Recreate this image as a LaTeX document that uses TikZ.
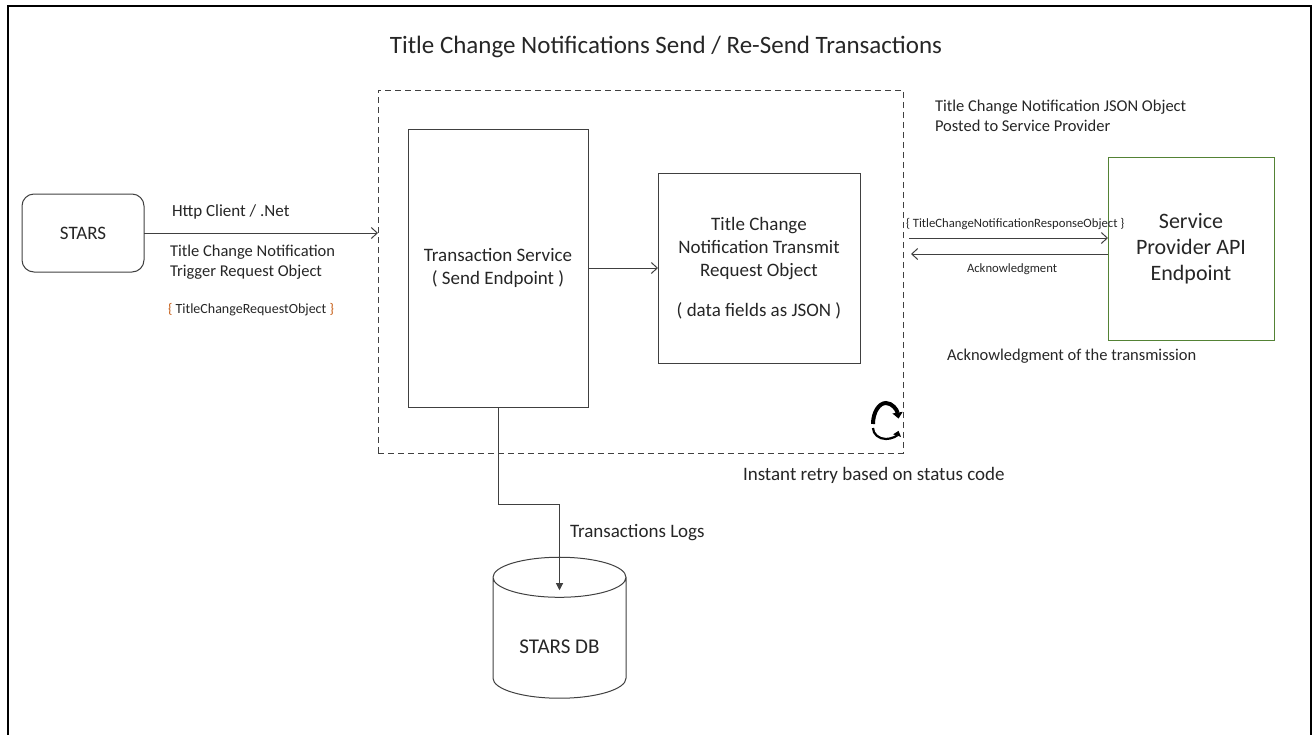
\documentclass[tikz,border=0pt]{standalone}
\usepackage{fontspec}
\setmainfont{Carlito}
\usepackage{xcolor}
\usepackage{tikz}
\definecolor{linegray}{RGB}{64,64,64}
\definecolor{textgray}{RGB}{38,38,38}
\definecolor{bracebrown}{RGB}{197,90,17}
\definecolor{spgreen}{RGB}{84,130,53}
\usetikzlibrary{shapes.geometric, arrows.meta, positioning, calc}
\newcommand{\ftitle}{\fontsize{25}{30}\selectfont}
\newcommand{\fmain}{\fontsize{19}{23}\selectfont}
\newcommand{\fsp}{\fontsize{22}{26}\selectfont}
\newcommand{\flab}{\fontsize{16.5}{19.5}\selectfont}
\newcommand{\fsmall}{\fontsize{14}{17}\selectfont}
\newcommand{\ftiny}{\fontsize{12.7}{15}\selectfont}

\begin{document}
\begin{tikzpicture}[x=1pt, y=-1pt,
    box/.style={rectangle, draw=linegray, line width=1pt, inner sep=0pt, outer sep=0pt, align=center, font=\fmain, text=textgray},
    lab/.style={inner sep=0pt, outer sep=0pt, align=left, text=textgray, font=\flab},
    arrow/.style={-{Straight Barb[length=6pt,width=11pt]}, linegray, line width=1pt},
    logarrow/.style={-{Triangle[length=7pt,width=7pt]}, linegray, line width=1pt}
]
    \useasboundingbox (0,0) rectangle (1314,734);
    % frame, open at the bottom
    \draw[line width=2.5pt] (8,740) -- (8,6) -- (1311,6) -- (1311,740);

    \node[lab, font=\ftitle, anchor=base] (title) at (666,53) {Title Change Notifications Send / Re-Send Transactions};

    \node[box, rounded corners=12pt, minimum width=122pt, minimum height=78pt] (stars) at (83,233) {STARS};
    \node[box, dashed, dash pattern=on 6pt off 4pt, minimum width=525pt, minimum height=363pt] (svc) at (640.5,271.5) {};
    \node[box, minimum width=180pt, minimum height=278pt] (trans) at (498,268) {Transaction Service\\( Send Endpoint )};
    \node[box, minimum width=202pt, minimum height=190pt] (xmit) at (759,268) {Title Change\\Notification Transmit\\Request Object\\[17pt]( data fields as JSON )};
    \node[box, draw=spgreen, font=\fsp, minimum width=166pt, minimum height=183pt] (sp) at (1191,248.5) {Service\\Provider API\\Endpoint};
    \node[box, cylinder, shape border rotate=90, aspect=0.5, font=\fontsize{21}{25}\selectfont, minimum width=133pt, minimum height=141pt] (db) at (559.5,638) {\raisebox{-15pt}[0pt][0pt]{STARS DB}};

    % labels
    \node[lab, font=\fontsize{17}{20}\selectfont, anchor=base west] (http) at (172,216) {Http Client / .Net};
    \node[lab, anchor=base west] (trig) at (170,276) {Title Change Notification\\Trigger Request Object};
    \node[lab, font=\fsmall, anchor=base west] (reqobj) at (168,313) {{\color{bracebrown}\{} TitleChangeRequestObject {\color{bracebrown}\}}};
    \node[lab, anchor=base west] (json) at (935,131) {Title Change Notification JSON Object\\Posted to Service Provider};
    \node[lab, font=\ftiny, anchor=base west] (resp) at (906,227) {\{ TitleChangeNotificationResponseObject \}};
    \node[lab, font=\ftiny, anchor=base west] (ack) at (967,272) {Acknowledgment};
    \node[lab, anchor=base west] (acktx) at (947,360) {Acknowledgment of the transmission};
    \node[lab, font=\fmain, anchor=base west] (retry) at (743,480) {Instant retry based on status code};
    \node[lab, font=\fmain, anchor=base west] (logs) at (570,537) {Transactions Logs};

    % connectors
    \coordinate (r1) at ([yshift=10.5pt]sp.west);
    \coordinate (r2) at ([yshift=-5.5pt]sp.west);
    \draw[arrow] (stars.east) -- (stars.east -| svc.west);
    \draw[arrow] (trans) -- (xmit);
    \draw[arrow, shorten <=6pt] (r1 -| svc.east) -- (r1);
    \draw[arrow, shorten >=8pt] (r2) -- (r2 -| svc.east);
    \draw[logarrow] (trans.south) -- ++(0,97) -| ($(db.north)+(0,33)$);

    % retry icon
    \draw[line width=4pt, -{Triangle[length=6pt,width=10pt]}] (873,424) arc[start angle=180, end angle=15, x radius=13pt, y radius=21pt];
    \draw[line width=2.2pt, -{Triangle[length=5pt,width=8pt]}] (873,428) arc[start angle=180, end angle=345, x radius=13pt, y radius=11pt];
\end{tikzpicture}
\end{document}
